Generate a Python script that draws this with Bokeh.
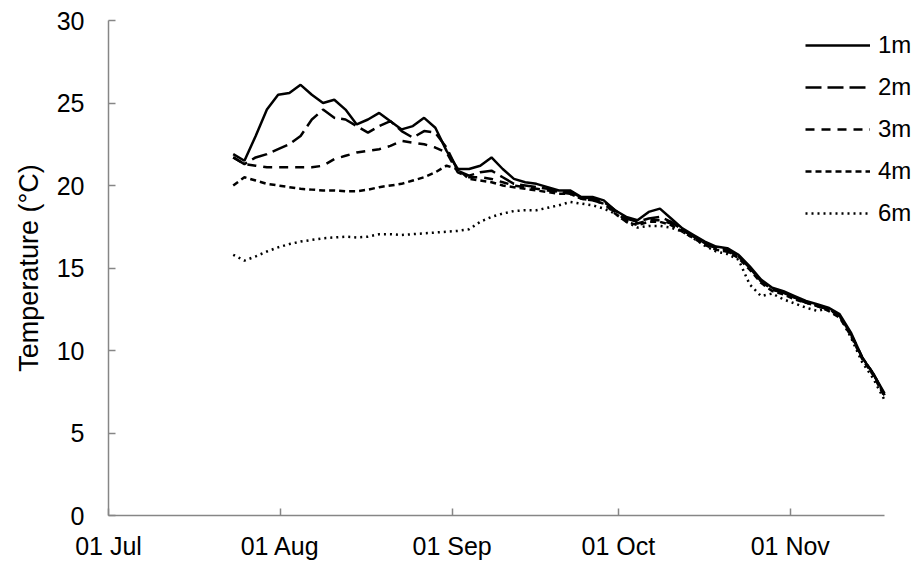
import pandas as pd
from bokeh.plotting import figure
from bokeh.models import (Range1d, FixedTicker, DatetimeTickFormatter, Legend, LegendItem)
from bokeh.embed import file_html
from bokeh.resources import INLINE

# ---- data ----
dates = pd.date_range("2014-07-23 12:00", "2014-11-18 00:00", periods=59)

t_1m = [21.9, 21.5, 23.0, 24.6, 25.5, 25.6, 26.1, 25.5, 25.0, 25.2,
        24.6, 23.7, 24.0, 24.4, 23.9, 23.4, 23.6, 24.1, 23.5, 22.1,
        21.0, 21.0, 21.2, 21.7, 21.0, 20.4, 20.2, 20.1, 19.9, 19.7,
        19.7, 19.3, 19.3, 19.1, 18.5, 18.1, 17.9, 18.4, 18.6, 18.0,
        17.4, 17.0, 16.6, 16.3, 16.2, 15.8, 15.1, 14.3, 13.8, 13.6,
        13.3, 13.0, 12.8, 12.6, 12.2, 11.1, 9.6, 8.6, 7.4]

t_2m = [21.7, 21.3, 21.7, 21.9, 22.2, 22.5, 23.0, 24.0, 24.6, 24.1,
        24.0, 23.6, 23.2, 23.6, 23.9, 23.3, 22.9, 23.3, 23.2, 22.3,
        20.9, 20.6, 20.8, 20.9, 20.5, 20.1, 20.0, 19.9, 19.8, 19.6,
        19.6, 19.3, 19.2, 19.0, 18.5, 18.0, 17.8, 18.0, 18.1, 17.8,
        17.3, 16.9, 16.5, 16.2, 16.1, 15.7, 15.0, 14.2, 13.7, 13.5,
        13.2, 12.9, 12.7, 12.5, 12.1, 11.0, 9.6, 8.6, 7.3]

t_3m = [21.7, 21.3, 21.2, 21.1, 21.1, 21.1, 21.1, 21.1, 21.2, 21.6,
        21.8, 22.0, 22.1, 22.2, 22.4, 22.7, 22.6, 22.5, 22.3, 22.0,
        20.8, 20.5, 20.5, 20.4, 20.2, 20.0, 19.9, 19.8, 19.7, 19.6,
        19.5, 19.2, 19.1, 18.9, 18.4, 17.9, 17.7, 17.9, 17.9, 17.7,
        17.3, 16.9, 16.5, 16.2, 16.0, 15.7, 15.0, 14.2, 13.7, 13.5,
        13.2, 12.9, 12.7, 12.5, 12.1, 11.0, 9.6, 8.6, 7.3]

t_4m = [20.0, 20.5, 20.3, 20.1, 20.0, 19.9, 19.8, 19.75, 19.7, 19.7,
        19.65, 19.65, 19.75, 19.9, 20.0, 20.1, 20.3, 20.5, 20.8, 21.2,
        21.0, 20.4, 20.3, 20.2, 20.0, 19.9, 19.8, 19.7, 19.6, 19.5,
        19.5, 19.2, 19.1, 18.9, 18.3, 17.8, 17.6, 17.8, 17.8, 17.6,
        17.2, 16.8, 16.4, 16.1, 16.0, 15.6, 14.9, 14.1, 13.6, 13.4,
        13.1, 12.9, 12.7, 12.4, 12.0, 10.9, 9.5, 8.5, 7.2]

t_6m = [15.8, 15.45, 15.7, 16.0, 16.25, 16.45, 16.6, 16.7, 16.8, 16.85,
        16.9, 16.85, 16.9, 17.05, 17.05, 17.0, 17.05, 17.1, 17.15, 17.2,
        17.25, 17.35, 17.8, 18.1, 18.3, 18.45, 18.5, 18.5, 18.65, 18.8,
        19.0, 18.9, 18.8, 18.6, 18.3, 17.8, 17.45, 17.55, 17.55, 17.45,
        17.2, 16.8, 16.35, 16.0, 15.85, 15.5, 14.0, 13.3, 13.45, 13.1,
        12.85, 12.6, 12.4, 12.55, 12.1, 10.8, 9.3, 8.3, 7.0]

series_names = ["1m", "2m", "3m", "4m", "6m"]
tick_dates = ["2014-07-01", "2014-08-01", "2014-09-01", "2014-10-01", "2014-11-01"]
y_ticks = [0, 5, 10, 15, 20, 25, 30]
x_start, x_end = "2014-07-01", "2014-11-18"

# ---- layout ----
W, H = 924, 567
LEFT, RIGHT_AXIS_END, TOP, BOTTOM = 108, 884, 20, 52
frame_w = W - LEFT
t0, t1 = pd.Timestamp(x_start), pd.Timestamp(x_end)
# extend the frame to the right edge so the legend is not clipped;
# the axis line itself stops at x_end (axis bounds)
range_end = t0 + (t1 - t0) * (frame_w / (RIGHT_AXIS_END - LEFT))

FONT = "Liberation Sans"
AX = "#868686"

p = figure(width=W, height=H, output_backend="svg", toolbar_location=None,
           x_axis_type="datetime",
           x_range=Range1d(t0, range_end),
           y_range=Range1d(0, 30),
           min_border_left=LEFT, min_border_right=0,
           min_border_top=TOP, min_border_bottom=BOTTOM)
p.outline_line_color = None
p.grid.grid_line_color = None
p.background_fill_color = "white"
p.border_fill_color = "white"

styles = [("solid", t_1m), ("16 6", t_2m), ("9 7", t_3m), ("6 4", t_4m), ("2 4", t_6m)]
items = []
for name, (dash, vals) in zip(series_names, styles):
    r = p.line(dates, vals, line_color="black", line_width=2.5, line_dash=dash)
    items.append(LegendItem(label=name, renderers=[r]))

ms = [pd.Timestamp(d).value // 10**6 for d in tick_dates]
p.xaxis.ticker = FixedTicker(ticks=ms)
p.xaxis.bounds = (t0.value // 10**6, t1.value // 10**6)
fmt = "%d %b"
p.xaxis.formatter = DatetimeTickFormatter(days=fmt, months=fmt, years=fmt,
                                          hours=fmt, hourmin=fmt, minutes=fmt,
                                          context=None)
p.yaxis.ticker = FixedTicker(ticks=y_ticks)
p.yaxis.axis_label = "Temperature (°C)"

for ax in (p.xaxis, p.yaxis):
    ax.axis_line_color = AX
    ax.axis_line_width = 1.5
    ax.major_tick_line_color = AX
    ax.major_tick_line_width = 1.5
    ax.major_tick_in = 7
    ax.major_tick_out = 0
    ax.minor_tick_line_color = None
    ax.major_label_text_font = FONT
    ax.major_label_text_font_size = "25px"
    ax.major_label_text_color = "black"

p.xaxis.major_label_standoff = 16
p.yaxis.major_label_standoff = 24
p.yaxis.axis_label_text_font = FONT
p.yaxis.axis_label_text_font_size = "27px"
p.yaxis.axis_label_text_font_style = "normal"
p.yaxis.axis_label_text_color = "black"
p.yaxis.axis_label_standoff = 10

legend = Legend(items=items, location=(697, 288),
                border_line_color=None, background_fill_alpha=0,
                label_text_font=FONT, label_text_font_size="24px",
                label_text_color="black",
                glyph_width=65, glyph_height=20, label_height=20,
                label_standoff=8, spacing=14, padding=0, margin=0)
p.add_layout(legend)

open("out.html", "w").write(file_html(p, INLINE))
